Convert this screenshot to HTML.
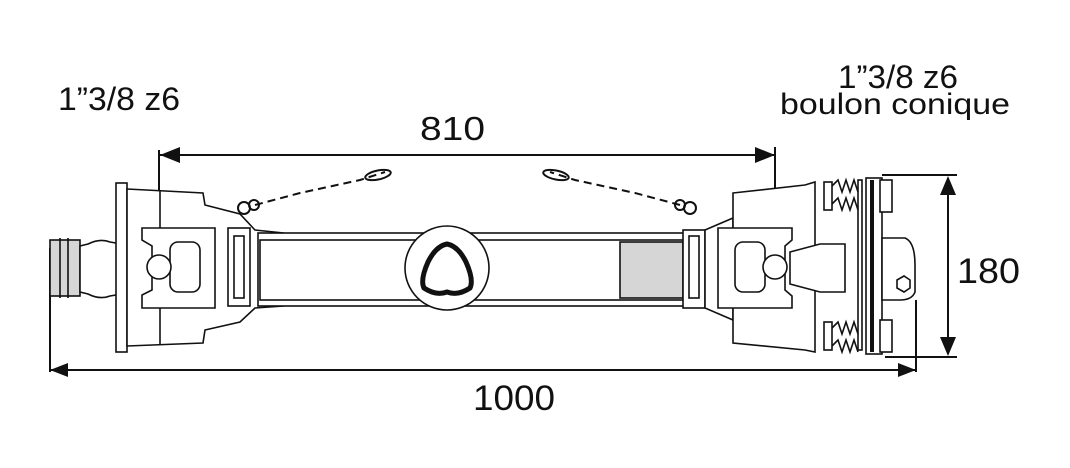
<!DOCTYPE html>
<html><head><meta charset="utf-8"><style>
html,body{margin:0;padding:0;background:#fff;}
svg{display:block;}
text{font-family:"Liberation Sans",sans-serif;fill:#111;}
</style></head><body>
<svg width="1070" height="468" viewBox="0 0 1070 468" xmlns="http://www.w3.org/2000/svg">
<g stroke="#111" fill="none" stroke-width="2">
<line x1="160" y1="155" x2="775" y2="155"/>
<line x1="159" y1="150" x2="159" y2="268"/>
<line x1="775" y1="147" x2="775" y2="265"/>
<line x1="50" y1="370" x2="916" y2="370"/>
<line x1="50" y1="248" x2="50" y2="372"/>
<line x1="916" y1="300" x2="916" y2="372"/>
<line x1="882" y1="175" x2="957" y2="175"/>
<line x1="885" y1="357" x2="957" y2="357"/>
<line x1="948" y1="178" x2="948" y2="354"/>
</g>
<g fill="#111">
<polygon points="160,155 180,147 180,163"/>
<polygon points="775,155 755,147 755,163"/>
<polygon points="50,370 68,363 68,377"/>
<polygon points="916,370 898,363 898,377"/>
<polygon points="948,176 940,195 956,195"/>
<polygon points="948,356 940,337 956,337"/>
</g>

<g stroke="#111" stroke-width="1.6" fill="#fff">
<rect x="50" y="240" width="30" height="56" fill="#d6d6d6"/>
<line x1="60" y1="238" x2="60" y2="298"/><line x1="68" y1="238" x2="68" y2="298"/>
<path d="M80 246 L88 244 Q100 238 110 242 L145 248 L145 290 L110 296 Q100 300 88 294 L80 292 Z"/>
<rect x="116" y="183" width="11" height="169"/>
<path d="M127 189 L203 193 L205 205 L240 214 L255 230 L283 233 L283 306 L255 308 L240 322 L205 330 L203 343 L127 346 Z"/>
<line x1="160" y1="190" x2="160" y2="345"/>
<path d="M142 228 L215 228 L215 308 L142 308 L142 295 L152 290 L152 246 L142 240 Z"/>
<rect x="170" y="242" width="30" height="50" rx="8"/>
<circle cx="159" cy="267" r="12"/>
<rect x="228" y="228" width="22" height="78"/>
<rect x="234" y="236" width="10" height="62"/>
<rect x="258" y="233" width="432" height="73"/>
<rect x="260" y="240" width="428" height="60"/>
<rect x="620" y="242" width="63" height="56" fill="#d6d6d6"/>
<circle cx="447" cy="268" r="42"/>
<path d="M447 244 Q458 246 466 262 Q474 280 470 288 Q458 296 447 292 Q436 296 424 288 Q420 280 428 262 Q436 246 447 244 Z" stroke-width="5"/>
<rect x="683" y="230" width="22" height="78"/>
<rect x="689" y="236" width="10" height="62"/>
<path d="M705 230 L733 218 L733 320 L705 308 Z"/>
<path d="M733 193 L805 185 L815 182 L815 352 L805 350 L733 343 Z"/>
<path d="M718 228 L792 228 L792 240 L785 246 L785 290 L792 296 L792 308 L718 308 Z"/>
<rect x="735" y="242" width="30" height="50" rx="8"/>
<circle cx="775" cy="267" r="12"/>
<path d="M790 252 L820 244 L845 244 L845 292 L820 292 L790 284 Z"/>
<rect x="858" y="180" width="4" height="170"/>
<rect x="866" y="178" width="16" height="176"/>
<line x1="872" y1="180" x2="872" y2="352" stroke-width="4"/>
<rect x="880" y="180" width="12" height="32"/>
<rect x="880" y="320" width="12" height="32"/>
<path d="M882 238 L905 238 Q915 242 915 265 L915 292 Q912 300 900 300 L882 300 Z"/>
<polygon points="897,280 904,276 910,280 910,288 904,292 897,288"/>
<rect x="824" y="182" width="8" height="28"/>
<rect x="824" y="322" width="8" height="28"/>
<path d="M832 186 l6 -6 l4 12 l4 -12 l4 12 l4 -12 l4 12 M832 204 l6 -6 l4 12 l4 -12 l4 12 l4 -12 l4 12" fill="none"/>
<path d="M832 328 l6 -6 l4 12 l4 -12 l4 12 l4 -12 l4 12 M832 346 l6 -6 l4 12 l4 -12 l4 12 l4 -12 l4 12" fill="none"/>
</g>
<g stroke="#111" stroke-width="2" fill="none">
<path d="M255 205 L300 193 L360 180 L385 172" stroke-dasharray="8 5"/>
<circle cx="244" cy="208" r="6"/><circle cx="254" cy="205" r="5"/>
<ellipse cx="378" cy="175" rx="13" ry="4.5" transform="rotate(-12 378 175)"/>
<path d="M680 205 L635 193 L575 180 L550 172" stroke-dasharray="8 5"/>
<circle cx="690" cy="208" r="6"/><circle cx="680" cy="205" r="5"/>
<ellipse cx="556" cy="175" rx="13" ry="4.5" transform="rotate(12 556 175)"/>
</g>

<text x="58" y="110" font-size="32" textLength="122" lengthAdjust="spacingAndGlyphs">1”3/8 z6</text>
<text x="420" y="140" font-size="33" textLength="65" lengthAdjust="spacingAndGlyphs">810</text>
<text x="838" y="88" font-size="32" textLength="120" lengthAdjust="spacingAndGlyphs">1”3/8 z6</text>
<text x="780" y="114" font-size="30" textLength="230" lengthAdjust="spacingAndGlyphs">boulon conique</text>
<text x="957" y="283" font-size="35" textLength="63" lengthAdjust="spacingAndGlyphs">180</text>
<text x="473" y="410" font-size="35" textLength="82" lengthAdjust="spacingAndGlyphs">1000</text>
</svg>
</body></html>
